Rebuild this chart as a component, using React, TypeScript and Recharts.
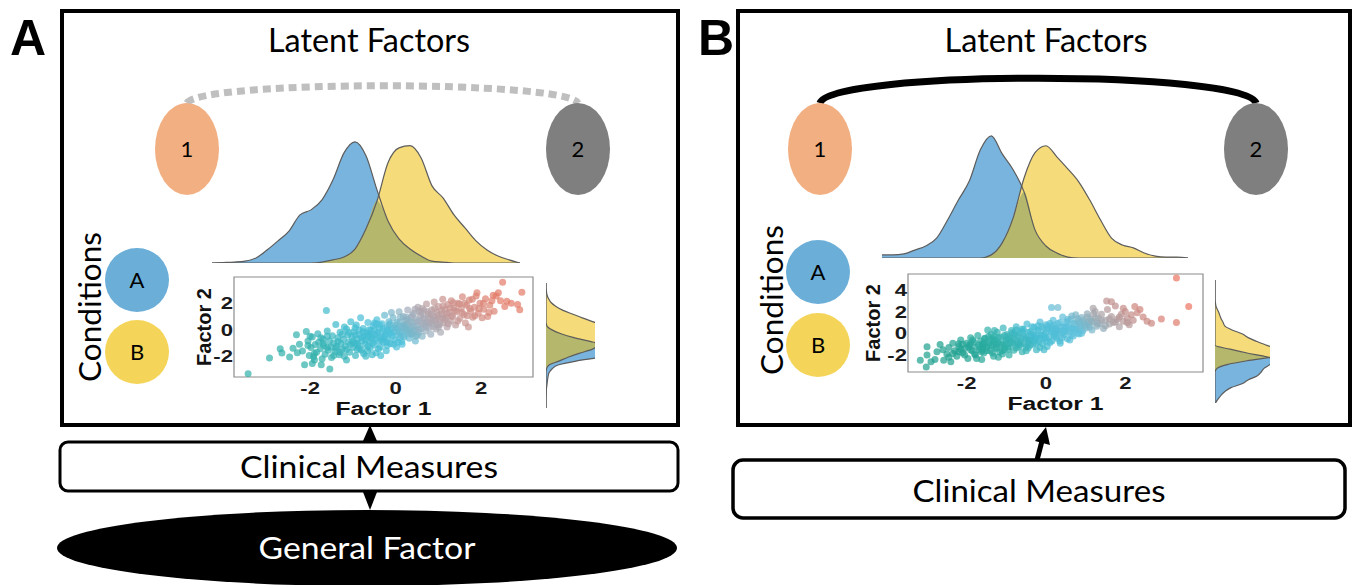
import React from 'react';
import { ComposedChart, Area, Line, XAxis, YAxis, ScatterChart, Scatter, ReferenceArea } from 'recharts';

// factor 1 grid for the top densities
const densityGrid = [-3.5, -3.25, -3, -2.75, -2.5, -2.25, -2, -1.75, -1.5, -1.25, -1, -0.75, -0.5, -0.25, 0, 0.25, 0.5, 0.75, 1, 1.25, 1.5, 1.75, 2, 2.25, 2.5, 2.75, 3, 3.25, 3.5];

// panel A, condition A (blue) and condition B (yellow)
const densityA_condA = [0, 0.002, 0.004, 0.008, 0.021, 0.054, 0.092, 0.133, 0.2, 0.221, 0.263, 0.346, 0.458, 0.504, 0.446, 0.304, 0.175, 0.1, 0.058, 0.029, 0.008, 0.004, 0, 0, 0, 0, 0, 0, 0];
const densityA_condB = [0, 0, 0, 0, 0, 0, 0, 0, 0, 0, 0.004, 0.013, 0.025, 0.058, 0.142, 0.258, 0.417, 0.479, 0.488, 0.438, 0.321, 0.271, 0.2, 0.146, 0.092, 0.054, 0.029, 0.013, 0];
// panel B
const densityB_condA = [0.013, 0.013, 0.017, 0.033, 0.05, 0.083, 0.158, 0.242, 0.321, 0.45, 0.508, 0.433, 0.367, 0.275, 0.117, 0.05, 0.021, 0.004, 0, 0, 0, 0, 0, 0, 0, 0, 0, 0, 0];
const densityB_condB = [0, 0, 0, 0, 0, 0, 0, 0, 0, 0, 0.013, 0.063, 0.167, 0.333, 0.438, 0.467, 0.421, 0.371, 0.317, 0.242, 0.158, 0.083, 0.054, 0.042, 0.021, 0.008, 0.004, 0.004, 0];

// factor 2 grid for the side densities
const marginalGrid = [4, 3.75, 3.5, 3.25, 3, 2.75, 2.5, 2.25, 2, 1.75, 1.5, 1.25, 1, 0.75, 0.5, 0.25, 0, -0.25, -0.5, -0.75, -1, -1.25, -1.5, -1.75, -2, -2.25, -2.5, -2.75, -3, -3.25, -3.5, -3.75, -4];

const marginalA_condB = [0, 0, 0.003, 0.008, 0.021, 0.042, 0.083, 0.142, 0.225, 0.308, 0.4, 0.483, 0.542, 0.567, 0.55, 0.483, 0.433, 0.383, 0.275, 0.183, 0.108, 0.025, 0.004, 0, 0, 0, 0, 0, 0, 0, 0, 0, 0];
const marginalA_condA = [0, 0, 0, 0, 0, 0, 0, 0, 0, 0, 0, 0.008, 0.05, 0.125, 0.233, 0.375, 0.5, 0.583, 0.6, 0.458, 0.25, 0.1, 0.05, 0.025, 0.017, 0.012, 0.008, 0.004, 0.002, 0.001, 0, 0, 0];
const marginalB_condB = [0, 0, 0, 0, 0, 0, 0.004, 0.01, 0.025, 0.038, 0.05, 0.067, 0.083, 0.142, 0.225, 0.275, 0.35, 0.433, 0.517, 0.567, 0.483, 0.267, 0.1, 0.017, 0, 0, 0, 0, 0, 0, 0, 0, 0];
const marginalB_condA = [0, 0, 0, 0, 0, 0, 0, 0, 0, 0, 0, 0, 0, 0, 0, 0, 0, 0, 0.125, 0.267, 0.433, 0.5, 0.458, 0.408, 0.383, 0.35, 0.275, 0.225, 0.133, 0.083, 0.05, 0.025, 0.004];

// factor scores [factor 1, factor 2]
const scoresA: [number, number][] = [
  [-3.45, -3.33], [-2.95, -2.15], [-2.7, -1.44], [-2.66, -1.77], [-2.48, -2.07], [-2.32, -0.38], [-2.09, -0.13], [-1.62, 1.46], [-1.54, -2.98], [-1.74, -2.65], [-2.13, -2.65], [-1.9, -2.3],
  [-2.25, -1.1], [-2.18, -1.62], [-2.05, -0.85], [-2.02, -1.95], [-1.98, -1.35], [-1.95, -0.55], [-1.92, -2.05], [-1.88, -1.12], [-1.85, -1.7], [-1.82, -0.3], [-1.8, -0.95], [-1.76, -1.45],
  [-1.72, -2.2], [-1.7, -0.7], [-1.68, -1.2], [-1.65, -1.85], [-1.6, -0.1], [-1.58, -1.55], [-1.55, -0.85], [-1.52, -1.3], [-1.5, -2.1], [-1.48, -0.45], [-1.45, -1.0], [-1.42, -1.65],
  [-1.4, 0.4], [-1.38, -1.25], [-1.35, -0.6], [-1.32, -1.9], [-1.3, -0.2], [-1.28, -1.05], [-1.25, -1.5], [-1.22, -0.75], [-1.2, 0.2], [-1.18, -1.25], [-1.15, -2.3], [-1.12, -0.4],
  [-1.1, -0.95], [-1.08, -1.7], [-1.05, 0.6], [-1.02, -0.55], [-1.0, -1.35], [-0.98, -0.15], [-0.96, -1.0], [-0.94, -1.95], [-0.92, 0.35], [-0.9, -0.7], [-0.88, -1.2], [-0.85, -0.35],
  [-0.82, 0.9], [-0.8, -1.55], [-0.78, -0.85], [-0.76, 0.1], [-0.74, -0.5], [-0.72, -1.1], [-0.7, -2.0], [-0.68, -0.25], [-0.65, 0.55], [-0.62, -0.9], [-0.6, -1.4], [-0.58, -0.05],
  [-0.55, -0.65], [-0.52, 0.3], [-0.5, -1.15], [-0.48, -0.4], [-0.46, -1.75], [-0.44, 0.75], [-0.42, -0.2], [-0.4, -0.85], [-0.38, 0.15], [-0.36, -1.3], [-0.34, -0.55], [-0.32, 0.45],
  [-0.3, -0.1], [-0.28, -0.95], [-0.26, 1.1], [-0.24, -0.35], [-0.22, -1.6], [-0.2, 0.2], [-0.18, -0.7], [-0.16, 0.6], [-0.14, -0.25], [-0.12, -1.05], [-0.1, 0.05], [-0.08, -0.5],
  [-0.06, 0.9], [-0.04, -0.15], [-0.02, -0.8], [0.0, 0.35], [0.02, -1.3], [0.04, 0.1], [0.06, -0.4], [0.08, 1.35], [0.1, 0.6], [0.12, -0.2], [0.14, -0.9], [0.16, 0.3],
  [0.18, 1.0], [0.2, -0.55], [0.22, 0.05], [0.24, 0.7], [0.26, -0.1], [0.28, 1.5], [0.3, 0.4], [0.32, -0.65], [0.34, 0.15], [0.36, 0.95], [0.38, -0.3], [0.4, 0.55],
  [0.42, 1.25], [0.44, 0.0], [0.46, -0.85], [0.48, 0.8], [0.5, 0.3], [0.52, 1.7], [0.54, -0.2], [0.56, 0.6], [0.58, 1.1], [0.6, 0.1], [0.62, -0.5], [0.64, 0.85],
  [0.66, 1.45], [0.68, 0.35], [0.7, -0.1], [0.72, 1.95], [0.74, 0.6], [0.76, 1.15], [0.78, 0.15], [0.8, 0.9], [0.82, -0.35], [0.84, 1.5], [0.86, 0.45], [0.88, 1.0],
  [0.9, 2.1], [0.92, 0.7], [0.94, 0.05], [0.96, 1.3], [0.98, 0.4], [1.0, 1.75], [1.02, 0.85], [1.05, -0.2], [1.08, 1.2], [1.1, 2.3], [1.12, 0.55], [1.15, 1.55],
  [1.18, 0.95], [1.2, 0.2], [1.22, 1.9], [1.25, 1.3], [1.28, 0.65], [1.3, 2.2], [1.33, 1.0], [1.36, 1.65], [1.4, 0.35], [1.43, 1.35], [1.46, 2.0], [1.5, 0.85],
  [1.53, 1.6], [1.56, 2.5], [1.6, 1.15], [1.63, 0.5], [1.66, 1.85], [1.7, 0.2], [1.72, 2.25], [1.75, 1.4], [1.8, 0.95], [1.84, 1.7], [1.88, 2.55], [1.9, 2.8],
  [1.93, 1.25], [1.97, 2.0], [2.02, 0.9], [2.06, 1.55], [2.1, 2.35], [2.15, 1.0], [2.2, 1.85], [2.25, 2.2], [2.3, 1.4], [2.35, 2.55], [2.4, 2.8], [2.45, 2.2],
  [2.5, 3.6], [2.55, 1.75], [2.6, 2.15], [2.7, 2.0], [2.85, 1.9], [2.9, 1.52], [2.95, 2.83],
  [-0.9, -1.5], [-0.6, -0.3], [-0.3, -0.6], [0.1, -0.6], [0.3, 0.0], [-0.5, 0.0], [-1.1, -0.2], [-0.2, -1.2], [0.5, -0.4], [0.7, 0.5], [-0.75, -1.8], [-1.3, -1.7],
  [-1.6, -0.5], [-0.1, 1.3], [0.25, 0.95], [0.55, 1.4], [-0.45, 0.45], [-0.85, -0.05], [0.15, -1.1], [-1.0, -0.9], [-0.65, -1.25], [-0.15, 0.35], [0.35, -0.35], [1.1, 0.9],
  [-1.9, -1.8], [-1.75, -0.6], [-1.6, -1.35], [-1.45, -1.95], [-1.35, -0.9], [-1.25, -0.35], [-1.15, -1.5], [-1.05, -1.1], [-0.95, -0.4], [-0.9, -1.05], [-0.85, -1.4], [-0.8, -0.6],
  [-0.75, -0.15], [-0.7, -0.75], [-0.66, -1.6], [-0.62, 0.0], [-0.58, -0.5], [-0.54, -1.0], [-0.5, 0.5], [-0.47, -0.7], [-0.43, -0.3], [-0.4, -1.45], [-0.37, 0.35], [-0.33, -0.8],
  [-0.29, 0.05], [-0.25, -0.5], [-0.21, -0.95], [-0.17, 0.0], [-0.13, 0.45], [-0.09, -0.35], [-0.05, -1.1], [-0.01, 0.15], [0.03, 0.55], [0.07, -0.15], [0.11, 0.95], [0.15, 0.15],
  [0.19, -0.4], [0.23, 0.4], [0.27, 0.75], [0.31, -0.2], [0.35, 0.6], [0.39, 1.1], [0.43, 0.25], [0.47, -0.5], [0.51, 0.65], [0.55, 0.05], [0.59, 1.3], [0.63, 0.45],
  [0.67, 0.9], [0.71, 0.2], [0.75, 1.35], [0.79, 0.55], [0.83, 1.15], [0.87, 0.25], [0.91, 1.6], [0.95, 0.8], [0.99, 1.1], [1.03, 0.4], [1.07, 1.45], [1.11, 1.8],
  [1.15, 0.75], [1.19, 1.2], [1.23, 0.45], [1.27, 1.65], [1.31, 1.05], [1.35, 2.05], [1.39, 1.45], [1.45, 0.65], [1.49, 1.95], [1.55, 1.3], [1.61, 2.0], [1.67, 1.05],
  [1.73, 1.6], [1.79, 2.3], [1.85, 1.05], [1.95, 1.6], [2.05, 2.0], [2.18, 1.3], [2.28, 2.6], [-2.05, -1.2], [-1.95, -2.55], [-2.3, -1.75], [-2.4, -1.4], [-1.15, 0.05],
  [-0.35, -1.95], [0.05, -0.95], [0.4, -0.1], [0.62, 1.6], [0.85, 0.7], [-1.4, -1.4], [-1.2, -2.0], [-0.65, -0.45], [-0.2, -0.15], [0.2, 0.25], [1.0, 0.2], [-0.95, 0.15],
  [-0.55, -1.9], [0.45, 1.55], [-1.7, -1.05], [-2.0, -0.5],
];

const scoresB: [number, number][] = [
  [3.29, 5.08], [3.6, 2.46], [3.29, 1.0], [-3.17, -2.46], [-3.02, -3.08], [-3.0, -1.24], [-3.0, -2.0], [-2.67, -1.02], [-2.58, -2.46], [2.91, 1.32], [2.66, 0.92], [2.24, 2.46],
  [2.37, 2.2], [1.95, 2.31], [1.53, 2.98], [1.65, 2.9], [1.19, 2.31], [0.14, 2.37], [0.3, 2.37],
  [-2.8, -2.4], [-2.75, -1.7], [-2.5, -1.9], [-2.45, -1.3], [-2.4, -2.6], [-2.35, -0.9], [-2.3, -1.6], [-2.25, -2.1], [-2.2, -1.2], [-2.15, -0.6], [-2.1, -1.8], [-2.05, -1.4],
  [-2.0, -0.9], [-1.97, -2.3], [-1.93, -1.1], [-1.9, -0.4], [-1.86, -1.6], [-1.82, -0.8], [-1.78, -2.0], [-1.75, -1.25], [-1.72, -0.2], [-1.68, -1.5], [-1.65, -0.7], [-1.62, -2.4],
  [-1.6, -1.0], [-1.57, -1.8], [-1.54, -0.45], [-1.5, -1.3], [-1.47, 0.3], [-1.44, -0.9], [-1.41, -1.6], [-1.38, -0.1], [-1.35, -1.15], [-1.32, -2.1], [-1.29, -0.6], [-1.26, -1.4],
  [-1.23, 0.1], [-1.2, -0.85], [-1.17, -1.7], [-1.14, -0.35], [-1.11, -1.05], [-1.08, 0.5], [-1.05, -1.5], [-1.02, -0.7], [-0.99, -0.1], [-0.96, -1.25], [-0.93, -2.0], [-0.9, -0.45],
  [-0.87, 0.25], [-0.84, -0.95], [-0.81, -1.55], [-0.78, -0.2], [-0.75, 0.6], [-0.72, -0.75], [-0.69, -1.2], [-0.66, 0.05], [-0.63, -0.5], [-0.6, -1.7], [-0.57, 0.35], [-0.54, -0.95],
  [-0.51, -0.25], [-0.48, 0.85], [-0.45, -1.35], [-0.42, -0.6], [-0.39, 0.15], [-0.36, -0.05], [-0.33, -1.0], [-0.3, 0.55], [-0.27, -0.4], [-0.24, -1.5], [-0.21, 0.25], [-0.18, -0.75],
  [-0.15, 1.05], [-0.12, -0.15], [-0.09, -0.95], [-0.06, 0.45], [-0.03, -0.45], [0.0, 0.1], [0.03, -1.2], [0.06, 0.7], [0.09, -0.3], [0.12, 0.3], [0.15, -0.7], [0.18, 1.2],
  [0.21, 0.0], [0.24, 0.5], [0.27, -0.45], [0.3, 0.9], [0.33, 0.2], [0.36, -0.9], [0.39, 0.6], [0.42, 1.5], [0.45, -0.15], [0.48, 0.35], [0.51, 1.0], [0.54, -0.5],
  [0.57, 0.65], [0.6, 0.1], [0.63, 1.3], [0.66, 0.45], [0.69, -0.25], [0.72, 0.85], [0.75, 1.7], [0.78, 0.3], [0.81, 1.1], [0.84, -0.05], [0.87, 0.7], [0.9, 1.45],
  [0.93, 0.25], [0.96, 0.95], [1.0, 0.5], [1.04, 1.8], [1.08, 0.8], [1.12, 1.3], [1.16, 0.3], [1.2, 1.05], [1.24, 2.0], [1.28, 0.65], [1.32, 1.4], [1.36, 0.9],
  [1.4, 1.75], [1.45, 0.45], [1.5, 1.2], [1.55, 2.2], [1.6, 0.85], [1.65, 1.55], [1.7, 1.0], [1.75, 2.5], [1.8, 1.3], [1.85, 0.6], [1.9, 1.75], [1.95, 1.1],
  [2.0, 2.0], [2.05, 1.4], [2.1, 0.8], [2.15, 1.7], [2.2, 1.2], [2.3, 1.9], [2.45, 1.5], [2.55, 1.1],
  [-1.0, -1.0], [-0.5, -0.5], [0.2, -0.2], [-1.3, -0.3], [-0.7, -1.0], [0.0, -0.7], [-0.2, 0.7], [0.4, 0.0], [-1.6, -1.2], [-0.4, -1.1], [0.5, 0.6], [-0.8, 0.0],
  [-1.1, -1.9], [0.7, 0.4], [-0.1, -0.2], [-1.9, -1.5], [-2.2, -1.7], [-1.4, -0.6], [0.1, 0.9], [0.8, 0.0], [-0.6, 0.2], [-1.25, -0.95], [-0.35, -0.35], [0.25, 0.35],
  [-0.95, -0.55], [-1.55, -1.05], [0.55, 1.3], [1.05, 1.0], [-2.1, -1.0], [-0.15, -1.3],
  [-2.6, -1.5], [-2.35, -1.85], [-2.2, -0.95], [-2.05, -2.0], [-1.95, -1.25], [-1.85, -0.6], [-1.8, -1.9], [-1.7, -1.05], [-1.63, -1.7], [-1.56, -0.85], [-1.5, -1.6], [-1.45, -0.3],
  [-1.4, -1.1], [-1.35, -1.8], [-1.3, -0.75], [-1.25, -1.3], [-1.2, -0.4], [-1.15, -1.0], [-1.1, -1.6], [-1.05, -0.2], [-1.0, -0.6], [-0.95, -1.45], [-0.9, -0.9], [-0.85, 0.05],
  [-0.8, -0.55], [-0.75, -1.35], [-0.7, -0.25], [-0.65, -0.8], [-0.6, 0.4], [-0.55, -0.35], [-0.5, -1.2], [-0.45, 0.1], [-0.4, -0.65], [-0.35, 0.6], [-0.3, -0.15], [-0.25, -0.9],
  [-0.2, 0.3], [-0.15, -0.45], [-0.1, 0.6], [-0.05, -0.1], [0.0, -0.4], [0.05, 0.4], [0.1, -0.85], [0.15, 0.15], [0.2, 0.75], [0.25, -0.3], [0.3, 0.3], [0.35, 1.0],
  [0.4, -0.4], [0.45, 0.55], [0.5, 0.15], [0.55, 1.1], [0.6, 0.45], [0.65, -0.1], [0.7, 0.9], [0.75, 0.35], [0.8, 1.35], [0.85, 0.5], [0.9, 0.0], [0.95, 1.2],
  [1.0, 0.75], [1.05, 1.5], [1.1, 0.55], [1.15, 1.1], [1.25, 1.4], [1.3, 0.85], [1.4, 1.2], [1.5, 0.7], [1.6, 1.35], [1.75, 1.05], [1.85, 1.5], [2.05, 1.0],
  [-2.9, -2.6], [-2.45, -2.2], [-1.75, -2.3], [-1.2, -2.2], [-0.5, -1.6], [-0.05, -1.5], [0.35, -0.7], [0.6, -0.6], [-1.9, -0.95], [-1.3, 0.25], [-0.75, 0.3], [0.0, 0.8],
  [0.65, 1.6], [1.2, 1.8], [-1.55, -0.5], [-0.95, -0.3], [-0.3, -0.65], [0.25, 0.0], [0.85, 0.9], [-1.6, -1.45], [-1.05, -1.25], [-0.65, -1.05], [-0.25, -0.3], [0.15, 0.55],
  [-2.15, -1.45], [-1.35, -0.5], [-0.85, -0.8], [-0.45, -0.85], [0.45, 0.2],
];

const BLUE = '#79b4de';
const YELLOW = '#f5db7a';
const OLIVE = '#b4b76c';
const EDGE = '#5c5c5c';

const stopsA: [number, string][] = [[-2.6, '#2fafa8'], [-1.0, '#3fbbd0'], [-0.2, '#4cc0da'], [0.8, '#a3adbb'], [1.8, '#c99490'], [3.2, '#e37b67']];
const stopsB: [number, string][] = [[-3.0, '#1e9f8e'], [-1.5, '#2dafa6'], [-0.3, '#45bcd3'], [0.9, '#5ec0dc'], [1.9, '#a7a5aa'], [2.8, '#c58a86'], [4.0, '#eb735f']];

function hexToRgb(h: string) {
  return [parseInt(h.slice(1, 3), 16), parseInt(h.slice(3, 5), 16), parseInt(h.slice(5, 7), 16)];
}

function rampColor(t: number, stops: [number, string][]) {
  if (t <= stops[0][0]) return stops[0][1];
  for (let i = 1; i < stops.length; i++) {
    if (t <= stops[i][0]) {
      const f = (t - stops[i - 1][0]) / (stops[i][0] - stops[i - 1][0]);
      const a = hexToRgb(stops[i - 1][1]);
      const b = hexToRgb(stops[i][1]);
      const c = a.map((v, k) => Math.round(v + (b[k] - v) * f));
      return `rgb(${c[0]},${c[1]},${c[2]})`;
    }
  }
  return stops[stops.length - 1][1];
}

const boldFont = '"Liberation Sans", Arial, sans-serif';
// the scatter figure in the original is pasted in stretched sideways, so its horizontal text is widened
const STRETCH = 1.3;

const XTick = ({ x, y, payload }: any) => (
  <text transform={`translate(${x},${y + 14}) scale(${STRETCH},1)`} textAnchor="middle" fontSize={17} fontWeight="bold" fill="#1a1a1a" fontFamily={boldFont}>
    {payload.value}
  </text>
);

const YTick = ({ x, y, payload }: any) => (
  <text transform={`translate(${x},${y + 6}) scale(${STRETCH},1)`} textAnchor="end" fontSize={17} fontWeight="bold" fill="#1a1a1a" fontFamily={boldFont}>
    {payload.value}
  </text>
);

const XTitle = ({ viewBox, dy }: any) => (
  <text transform={`translate(${viewBox.x + viewBox.width / 2},${viewBox.y + dy}) scale(${STRETCH},1)`} textAnchor="middle" fontSize={19} fontWeight="bold" fill="#111" fontFamily={boldFont}>
    Factor 1
  </text>
);

const YTitle = ({ viewBox, dx }: any) => (
  <text transform={`translate(${viewBox.x + dx},${viewBox.y + viewBox.height / 2}) rotate(-90)`} textAnchor="middle" fontSize={20} fontWeight="bold" fill="#111" fontFamily={boldFont}>
    Factor 2
  </text>
);

function TopDensity({ left, top, width, height, condA, condB }: any) {
  const data = densityGrid.map((v, i) => ({ v, a: condA[i], b: condB[i], both: Math.min(condA[i], condB[i]), la: condA[i], lb: condB[i] }));
  return (
    <div style={{ position: 'absolute', left, top }}>
      <ComposedChart width={width} height={height} data={data} margin={{ top: 0, right: 0, bottom: 0, left: 0 }}>
        <XAxis dataKey="v" type="number" domain={[-3.5, 3.5]} hide />
        <YAxis type="number" domain={[0, 0.52]} hide />
        <Area dataKey="a" type="monotone" fill={BLUE} fillOpacity={1} stroke="none" isAnimationActive={false} />
        <Area dataKey="b" type="monotone" fill={YELLOW} fillOpacity={1} stroke="none" isAnimationActive={false} />
        <Area dataKey="both" type="monotone" fill={OLIVE} fillOpacity={1} stroke="none" isAnimationActive={false} />
        <Line dataKey="la" type="monotone" stroke={EDGE} strokeWidth={1.2} dot={false} isAnimationActive={false} />
        <Line dataKey="lb" type="monotone" stroke={EDGE} strokeWidth={1.2} dot={false} isAnimationActive={false} />
      </ComposedChart>
    </div>
  );
}

function SideDensity({ left, top, width, height, condA, condB, maxD }: any) {
  const data = marginalGrid.map((v, i) => ({ v, a: condA[i], b: condB[i], both: Math.min(condA[i], condB[i]), la: condA[i], lb: condB[i] }));
  return (
    <div style={{ position: 'absolute', left, top }}>
      <ComposedChart layout="vertical" width={width} height={height} data={data} margin={{ top: 0, right: 0, bottom: 0, left: 0 }}>
        <XAxis type="number" domain={[0, maxD]} allowDataOverflow hide />
        <YAxis type="number" dataKey="v" domain={[-4, 4]} reversed hide />
        <Area dataKey="a" type="monotone" fill={BLUE} fillOpacity={1} stroke="none" isAnimationActive={false} />
        <Area dataKey="b" type="monotone" fill={YELLOW} fillOpacity={1} stroke="none" isAnimationActive={false} />
        <Area dataKey="both" type="monotone" fill={OLIVE} fillOpacity={1} stroke="none" isAnimationActive={false} />
        <Line dataKey="la" type="monotone" stroke={EDGE} strokeWidth={1.2} dot={false} isAnimationActive={false} />
        <Line dataKey="lb" type="monotone" stroke={EDGE} strokeWidth={1.2} dot={false} isAnimationActive={false} />
      </ComposedChart>
    </div>
  );
}

function ScoreScatter({ left, top, width, height, scores, xDomain, yDomain, yTicks, yAxisWidth, stops, titleDx, titleDy }: any) {
  const data = scores.map(([x, y]: [number, number]) => ({ x, y }));
  const dot = (props: any) => (
    <circle cx={props.cx} cy={props.cy} r={3.5} fill={rampColor(props.payload.x + 0.35 * props.payload.y, stops)} fillOpacity={0.7} />
  );
  return (
    <div style={{ position: 'absolute', left, top }}>
      <ScatterChart width={width} height={height} margin={{ top: 5, right: 7, bottom: 0, left: 0 }}>
        <XAxis type="number" dataKey="x" domain={xDomain} allowDataOverflow ticks={[-2, 0, 2]} interval={0} axisLine={false} tickLine={false}
          tickSize={0} tickMargin={3} height={48} tick={<XTick />} label={<XTitle dy={titleDy} />} />
        <YAxis type="number" dataKey="y" domain={yDomain} allowDataOverflow ticks={yTicks} interval={0} axisLine={false} tickLine={false}
          tickSize={0} tickMargin={1} width={yAxisWidth} tick={<YTick />} label={<YTitle dx={titleDx} />} />
        <Scatter data={data} shape={dot} isAnimationActive={false} />
        <ReferenceArea x1={xDomain[0]} x2={xDomain[1]} y1={yDomain[0]} y2={yDomain[1]} fill="none" stroke="#8c8c8c" strokeWidth={1.2} ifOverflow="visible" />
      </ScatterChart>
    </div>
  );
}

const sans = 'Lato, "Open Sans", sans-serif';

function Decor() {
  return (
    <svg width={1357} height={585} style={{ position: 'absolute', left: 0, top: 0 }} fontFamily={sans}>
      {/* panel A */}
      <text x={10} y={55} fontSize={50} fontWeight="bold" fontFamily={boldFont}>A</text>
      <rect x={62} y={11} width={616} height={414} fill="none" stroke="#000" strokeWidth={4} />
      <text x={369} y={52} textAnchor="middle" fontSize={32} textLength={202} lengthAdjust="spacingAndGlyphs">Latent Factors</text>
      <path d="M 187 103 C 200 80, 566 80, 578 103" fill="none" stroke="#bfbfbf" strokeWidth={7} strokeDasharray="8 5" />
      <ellipse cx={187} cy={149} rx={32} ry={46} fill="#f2af82" />
      <text x={187} y={157} textAnchor="middle" fontSize={22}>1</text>
      <ellipse cx={578} cy={149} rx={32} ry={46} fill="#7f7f7f" />
      <text x={578} y={157} textAnchor="middle" fontSize={22}>2</text>
      <text transform="translate(101,307) rotate(-90)" textAnchor="middle" fontSize={31} textLength={150} lengthAdjust="spacingAndGlyphs">Conditions</text>
      <circle cx={137} cy={280} r={32} fill="#6baed8" />
      <text x={137} y={288} textAnchor="middle" fontSize={22}>A</text>
      <circle cx={137} cy={352} r={32} fill="#f4d55a" />
      <text x={137} y={360} textAnchor="middle" fontSize={22}>B</text>
      <polygon points="370,425 363,441 377,441" fill="#000" />
      <rect x={60} y={442} width={618} height={49} rx={8} fill="#fff" stroke="#000" strokeWidth={3} />
      <text x={369} y={478} textAnchor="middle" fontSize={30} textLength={258} lengthAdjust="spacingAndGlyphs">Clinical Measures</text>
      <polygon points="363,492 377,492 370,510" fill="#000" />
      <ellipse cx={367} cy={548} rx={310} ry={38} fill="#000" />
      <text x={367} y={559} textAnchor="middle" fontSize={31} fill="#fff" textLength={217} lengthAdjust="spacingAndGlyphs">General Factor</text>

      {/* panel B */}
      <text x={698} y={55} fontSize={50} fontWeight="bold" fontFamily={boldFont}>B</text>
      <rect x={738} y={11} width={612} height={414} fill="none" stroke="#000" strokeWidth={4} />
      <text x={1046} y={52} textAnchor="middle" fontSize={32} textLength={203} lengthAdjust="spacingAndGlyphs">Latent Factors</text>
      <path d="M 820 103 C 830 70, 1246 70, 1256 103" fill="none" stroke="#000" strokeWidth={7} />
      <ellipse cx={820} cy={149} rx={32} ry={46} fill="#f2af82" />
      <text x={820} y={157} textAnchor="middle" fontSize={22}>1</text>
      <ellipse cx={1256} cy={149} rx={32} ry={46} fill="#7f7f7f" />
      <text x={1256} y={157} textAnchor="middle" fontSize={22}>2</text>
      <text transform="translate(783,300) rotate(-90)" textAnchor="middle" fontSize={31} textLength={150} lengthAdjust="spacingAndGlyphs">Conditions</text>
      <circle cx={818} cy={272} r={32} fill="#6baed8" />
      <text x={818} y={280} textAnchor="middle" fontSize={22}>A</text>
      <circle cx={818} cy={345} r={32} fill="#f4d55a" />
      <text x={818} y={353} textAnchor="middle" fontSize={22}>B</text>
      <line x1={1037} y1={460} x2={1042} y2={441} stroke="#000" strokeWidth={5} />
      <polygon points="1046,427 1050,445 1035,441" fill="#000" />
      <rect x={733} y={460} width={612} height={58} rx={10} fill="#fff" stroke="#000" strokeWidth={3.5} />
      <text x={1039} y={502} textAnchor="middle" fontSize={31} textLength={253} lengthAdjust="spacingAndGlyphs">Clinical Measures</text>
    </svg>
  );
}

export default function App() {
  return (
    <div style={{ position: 'absolute', left: 0, top: 0, width: 1357, height: 585, overflow: 'hidden', background: '#fff' }}>
      <Decor />
      <TopDensity left={212} top={138} width={308} height={125} condA={densityA_condA} condB={densityA_condB} />
      <TopDensity left={882} top={133} width={306} height={125} condA={densityB_condA} condB={densityB_condB} />
      <SideDensity left={546} top={282.6} width={49} height={125} condA={marginalA_condA} condB={marginalA_condB} maxD={0.408} />
      <SideDensity left={1215} top={280} width={55} height={123} condA={marginalB_condA} condB={marginalB_condB} maxD={0.458} />
      <ScoreScatter left={180} top={272} width={360} height={153} scores={scoresA} xDomain={[-3.78, 3.21]} yDomain={[-3.58, 3.99]}
        yTicks={[-2, 0, 2]} yAxisWidth={54} stops={stopsA} titleDx={31} titleDy={38} />
      <ScoreScatter left={850} top={269} width={360} height={151} scores={scoresB} xDomain={[-3.48, 3.96]} yDomain={[-3.55, 5.45]}
        yTicks={[-2, 0, 2, 4]} yAxisWidth={58} stops={stopsB} titleDx={30} titleDy={38} />
    </div>
  );
}
